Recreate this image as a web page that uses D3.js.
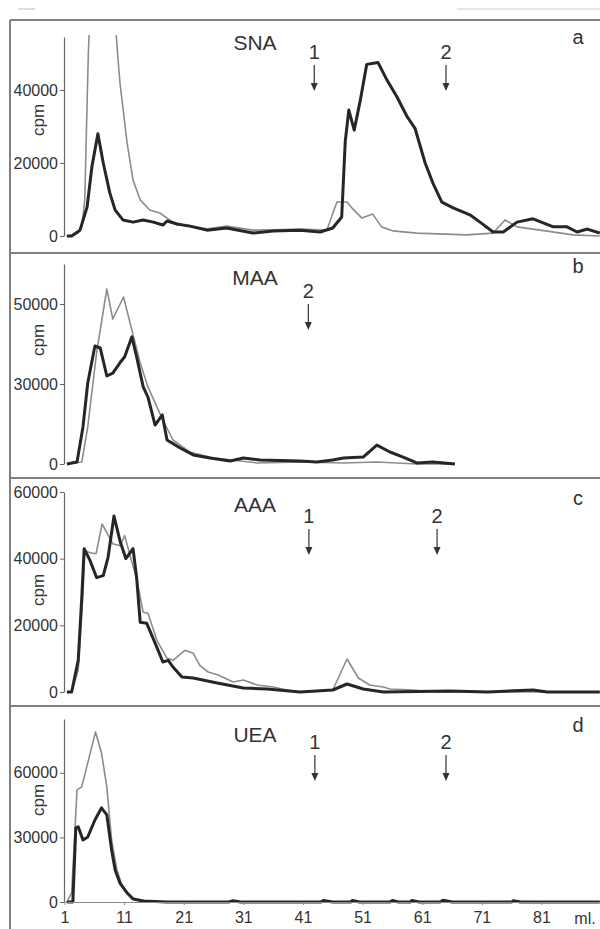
<!DOCTYPE html>
<html>
<head>
<meta charset="utf-8">
<script src="https://cdn.jsdelivr.net/npm/d3@7"></script>
<style>
  body { margin: 0; background: #fff; }
  svg { display: block; }
  text { font-family: "Liberation Sans", Arial, sans-serif; fill: #333; }
</style>
</head>
<body>
<svg id="chart"></svg>
<script>
// ---- data (ml, cpm) ----
const panelNames = ["SNA", "MAA", "AAA", "UEA"];
const panelLetters = ["a", "b", "c", "d"];
const yTicks = [[0, 20000, 40000], [0, 30000, 50000], [0, 20000, 40000, 60000], [0, 30000, 60000]];
const mlTicks = [1, 11, 21, 31, 41, 51, 61, 71, 81];
const yLabel = "cpm";
const xUnit = "ml.";

// arrow marks: [label, ml]
const arrowsSNA = [["1", 42.9], ["2", 65]];
const arrowsMAA = [["2", 41.9]];
const arrowsAAA = [["1", 42], ["2", 63.5]];
const arrowsUEA = [["1", 43], ["2", 65]];

const snaDark = [[1.4,0],[2.2,0],[3.6,1600],[4.8,8000],[5.6,19000],[6.6,28000],[7.5,20000],[8.6,11800],[9.5,7100],[10.8,4400],[12.5,3800],[14.2,4400],[15.9,3800],[17.5,3000],[18.2,4100],[19.9,3300],[22,2700],[24.9,1600],[28.2,2200],[32.6,800],[36,1400],[40.5,1600],[43.9,1100],[46,2200],[47.5,5200],[48.1,26000],[48.7,34500],[49.6,29000],[50.6,37000],[51.7,47000],[53.6,47500],[55.1,42700],[56.8,38000],[58.5,32600],[59.8,29500],[61.5,20000],[62.8,14500],[64.3,9300],[66.2,7700],[69,5800],[70.7,3800],[72.9,1100],[74.6,1100],[76.9,3800],[79.6,4700],[83,2500],[85.3,2500],[87,1100],[88.7,1900],[90.8,800]];
const snaLight = [[1.4,0],[2.2,0],[3.2,800],[3.9,2500],[4.4,9900],[4.8,37000],[5,50000],[6,90000],[7,110000],[8,95000],[9,70000],[10,48000],[10.3,42000],[11.5,25500],[12.5,15300],[13.7,9900],[15.3,7100],[17,6300],[18.2,4900],[19.9,3000],[22,2900],[24.9,2000],[28.2,2700],[32.6,1600],[36,1700],[40.5,1900],[45,1600],[46.7,9300],[48.4,9300],[49.2,7700],[50.9,4900],[52.7,6000],[54.2,2500],[56.1,1400],[60.1,800],[68.5,300],[72.9,800],[74.9,4400],[76.9,2500],[80.8,1600],[86.3,300],[90.8,0]];

const maaDark = [[1.4,0],[3.1,750],[4.1,13900],[4.9,30250],[6.1,39500],[7,39000],[8.1,32000],[9.1,32700],[10.3,35300],[11.1,36800],[12.3,41800],[13.1,36800],[14.2,28900],[15,25100],[16.2,14600],[17.4,18400],[18.2,9000],[20.4,6000],[22.6,3400],[25.4,2250],[28.8,1100],[31,2250],[33.8,1500],[40.5,1100],[43.3,750],[46,1500],[47.8,2250],[51.1,2600],[53.4,7100],[55.6,4500],[57.8,2600],[60.1,400],[62.8,750],[66.5,0]];
const maaLight = [[1.4,0],[3.9,750],[4.9,13900],[6.4,38000],[8.1,53750],[9.1,46250],[10.9,51750],[12.3,43500],[13.7,35250],[15,28900],[16.5,21400],[17.5,16500],[19.2,9000],[22,4500],[26,2250],[33.3,400],[40.5,750],[47.8,400],[53.4,750],[60.1,0],[66.5,0]];

const aaaDark = [[1.4,0],[2.2,0],[3.3,9500],[3.9,28400],[4.3,43000],[5.3,39400],[6.4,34300],[7.5,34900],[8.3,40300],[9.3,52800],[10.3,45400],[11.3,40000],[12.5,43000],[13.1,34300],[13.7,20900],[14.8,20600],[16.5,13400],[17.5,9000],[18.4,9500],[19.2,7500],[20.7,4500],[22.6,4200],[26.6,2700],[31,1200],[35,900],[40.5,0],[46,600],[48.4,2400],[51.1,900],[54.5,0],[65.7,300],[72,0],[79.6,600],[82,0],[90.8,0]];
const aaaLight = [[1.4,0],[2.2,0],[3.3,6600],[4.1,29500],[4.4,42400],[5.3,41800],[6.3,41500],[7.3,50400],[8.1,47800],[9.1,44500],[10.3,43900],[11.1,46900],[12,40900],[13.1,34000],[14.2,23900],[15,23600],[16.5,15500],[18.2,10100],[19.2,9500],[21.2,12500],[22.6,11600],[23.7,8000],[25.1,6000],[26.8,5100],[29.3,3000],[31,3600],[33.3,2100],[36,1500],[38.3,600],[40.5,0],[46,600],[48.4,9900],[50.3,4200],[52.2,2100],[54.5,1500],[55.6,900],[59.5,600],[62.8,0],[90.8,0]];

const ueaDark = [[1.4,0],[2.4,0],[2.9,34400],[3.3,34900],[4.1,28800],[4.9,30200],[6.1,38100],[7.2,43700],[8.1,40500],[8.9,24200],[9.5,14900],[10.3,8800],[11.5,4200],[12.5,1400],[14.2,500],[18.2,0],[28.5,0],[29.3,600],[30.5,0],[44,0],[44.4,700],[46,0],[49,0],[49.3,700],[50.5,0],[55.6,0],[56,700],[57,0],[59,0],[59.3,700],[60.5,0],[64,0],[64.5,800],[66,0],[76,0],[76.3,600],[77.5,0],[90.8,0]];
const ueaLight = [[1.4,0],[2.2,4200],[3.1,52100],[3.9,53500],[4.9,64600],[6.2,79000],[7.2,69300],[8.1,53500],[8.9,28800],[9.8,14900],[10.8,6500],[12.5,1900],[15.3,0],[90.8,0]];

const seriesDark = [snaDark, maaDark, aaaDark, ueaDark];
const seriesLight = [snaLight, maaLight, aaaLight, ueaLight];
const arrowSets = [arrowsSNA, arrowsMAA, arrowsAAA, arrowsUEA];

// ---- layout ----
const width = 600, height = 929;
const frameLeft = 10;
const xScale = d3.scaleLinear().domain([1, 91]).range([64.5, 601]);

const layouts = [
  { top: 20,  domain: [0, 54500],               range: [236, 37],            cpmOff: 116, titleY: 50,  letterY: 44,  numY: 59 },
  { top: 253, domain: [0, 30000, 50000, 60000], range: [464, 384, 304, 264], cpmOff: 124, titleY: 285, letterY: 273, numY: 298 },
  { top: 478, domain: [0, 60000],               range: [692, 492],           cpmOff: 102, titleY: 512, letterY: 505, numY: 523 },
  { top: 706, domain: [0, 85000],               range: [902, 719],           cpmOff: 102, titleY: 742, letterY: 732, numY: 749 }
];

const svg = d3.select("#chart").attr("width", width).attr("height", height);

// stray marks along the very top of the scan
svg.append("line").attr("x1", 18).attr("x2", 35).attr("y1", 9).attr("y2", 9)
  .attr("stroke", "#bbb").attr("stroke-width", 1);
svg.append("line").attr("x1", 457).attr("x2", 600).attr("y1", 9).attr("y2", 9)
  .attr("stroke", "#ccc").attr("stroke-width", 1);

// frame
svg.append("line").attr("x1", frameLeft).attr("x2", frameLeft).attr("y1", 20).attr("y2", height)
  .attr("stroke", "#808080").attr("stroke-width", 2);
layouts.forEach(l => {
  svg.append("line").attr("x1", frameLeft).attr("x2", width).attr("y1", l.top).attr("y2", l.top)
    .attr("stroke", "#808080").attr("stroke-width", 2);
});

const line = d3.line().x(d => xScale(d[0]));

layouts.forEach((l, i) => {
  const yScale = d3.scaleLinear().domain(l.domain).range(l.range);
  const g = svg.append("g");

  const clipId = "clip" + i;
  const yTop = d3.min(l.range);
  g.append("clipPath").attr("id", clipId)
    .append("rect").attr("x", 60).attr("y", yTop - 2).attr("width", width - 60).attr("height", l.range[0] - yTop + 20);

  // y axis
  const yAxis = g.append("g")
    .attr("transform", `translate(${xScale(1) - 0.5},0)`)
    .call(d3.axisLeft(yScale).tickValues(yTicks[i]).tickSize(4).tickSizeOuter(0).tickPadding(2).tickFormat(d3.format("d")));
  yAxis.select(".domain").attr("stroke", "#666").attr("stroke-width", 1.2);
  yAxis.selectAll(".tick line").attr("stroke", "#666");
  yAxis.selectAll(".tick text").style("font-size", "16px").attr("fill", "#333");

  g.append("text")
    .attr("transform", `translate(44,${l.range[0] - l.cpmOff}) rotate(-90)`)
    .attr("text-anchor", "middle")
    .style("font-size", "17px")
    .text(yLabel);

  // curves
  const lineY = line.y(d => yScale(d[1]));
  g.append("path").datum(seriesLight[i])
    .attr("clip-path", `url(#${clipId})`)
    .attr("fill", "none").attr("stroke", "#8c8c8c").attr("stroke-width", 1.6)
    .attr("stroke-linejoin", "round")
    .attr("d", lineY);
  g.append("path").datum(seriesDark[i])
    .attr("clip-path", `url(#${clipId})`)
    .attr("fill", "none").attr("stroke", "#262626").attr("stroke-width", 3)
    .attr("stroke-linejoin", "round")
    .attr("d", lineY);

  // labels
  g.append("text").attr("x", 255).attr("y", l.titleY).attr("text-anchor", "middle")
    .style("font-size", "21px").text(panelNames[i]);
  g.append("text").attr("x", 578).attr("y", l.letterY).attr("text-anchor", "middle")
    .style("font-size", "20px").text(panelLetters[i]);

  // fraction arrows
  const arrows = g.selectAll(".arrow").data(arrowSets[i]).join("g")
    .attr("class", "arrow")
    .attr("transform", d => `translate(${xScale(d[1])},${l.numY})`);
  arrows.append("text").attr("text-anchor", "middle").style("font-size", "20px").text(d => d[0]);
  arrows.append("line").attr("x1", 0).attr("x2", 0).attr("y1", 6).attr("y2", 26)
    .attr("stroke", "#333").attr("stroke-width", 1.2);
  arrows.append("path").attr("d", "M-3.5,24 L3.5,24 L0,32 Z").attr("fill", "#333");

  // x axis only on the last panel
  if (i === layouts.length - 1) {
    const xAxis = g.append("g")
      .attr("transform", `translate(0,${l.range[0]})`)
      .call(d3.axisBottom(xScale).tickValues(mlTicks).tickSize(3).tickSizeOuter(0).tickPadding(7));
    xAxis.select(".domain").attr("stroke", "#888").attr("stroke-width", 1.2);
    xAxis.selectAll(".tick line").attr("stroke", "#888");
    xAxis.selectAll(".tick text").style("font-size", "16px").attr("fill", "#333");
    g.append("text").attr("x", 585).attr("y", l.range[0] + 22).attr("text-anchor", "middle")
      .style("font-size", "16px").text(xUnit);
  }
});
</script>
</body>
</html>
